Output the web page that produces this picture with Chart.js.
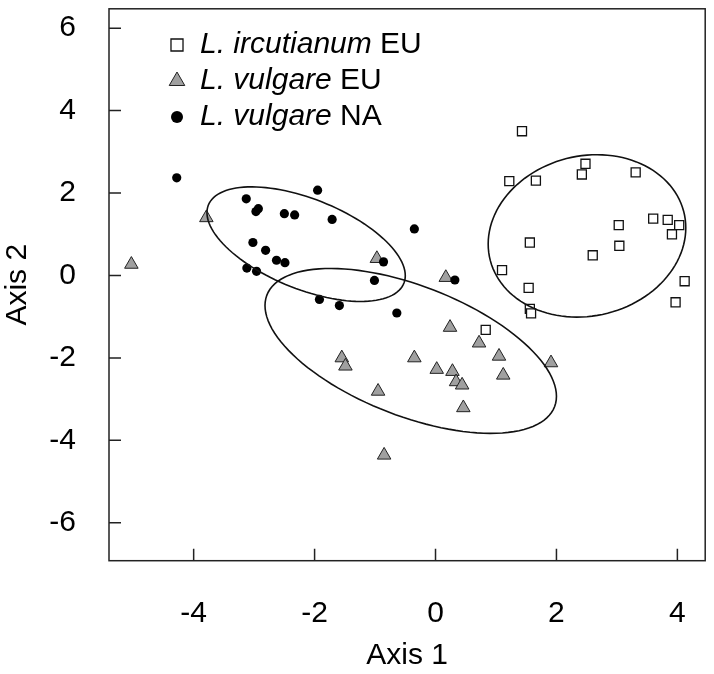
<!DOCTYPE html>
<html>
<head>
<meta charset="utf-8">
<script src="https://cdn.jsdelivr.net/npm/chart.js@4.4.1/dist/chart.umd.min.js"></script>
<style>
  html, body { margin: 0; padding: 0; background: #fff; }
  #wrap { width: 714px; height: 674px; }
</style>
</head>
<body>
<div id="wrap"><canvas id="chart"></canvas></div>
<script>
// axis settings
const xTicks = [-4, -2, 0, 2, 4];
const yTicks = [-6, -4, -2, 0, 2, 4, 6];
const xRange = [-5.40, 4.46];
const yRange = [-6.92, 6.47];

// L. ircutianum EU (open squares)
const ircX = [1.43, 1.22, 1.66, 2.48, 2.42, 3.31, 3.03, 3.60, 3.84, 4.03, 3.91, 3.04, 1.56, 2.60, 1.10, 1.54, 4.12, 1.56, 1.58, 3.97, 0.83];
const ircY = [3.50, 2.29, 2.30, 2.71, 2.45, 2.50, 1.22, 1.38, 1.35, 1.22, 1.00, 0.72, 0.80, 0.49, 0.13, -0.30, -0.14, -0.81, -0.92, -0.65, -1.32];

// L. vulgare EU (grey triangles)
const vulEuX = [-5.03, -3.79, -0.97, -1.55, -1.49, -0.95, -0.85, -0.35, 0.24, 0.72, 1.05, 1.12, 1.91, 0.02, 0.28, 0.34, 0.44, 0.46, 0.17];
const vulEuY = [0.27, 1.40, 0.41, -2.00, -2.20, -2.81, -4.36, -2.00, -1.26, -1.64, -1.96, -2.42, -2.12, -2.28, -2.33, -2.58, -2.66, -3.21, -0.05];

// L. vulgare NA (black dots)
const vulNaX = [-4.28, -3.13, -2.93, -2.97, -2.50, -2.33, -1.95, -1.71, -0.35, -3.02, -2.81, -2.63, -2.49, -3.12, -2.96, -0.86, -1.01, -1.92, -1.59, -0.64, 0.32];
const vulNaY = [2.37, 1.86, 1.62, 1.55, 1.50, 1.47, 2.07, 1.36, 1.13, 0.80, 0.61, 0.37, 0.31, 0.18, 0.10, 0.33, -0.12, -0.58, -0.73, -0.91, -0.11];

// group ellipses: NA, vulgare EU, ircutianum EU
const ellCx = [-2.14, -0.41, 2.505];
const ellCy = [0.76, -1.83, 0.96];
const ellRx = [1.64, 2.41, 1.634];
const ellRy = [1.39, 2.00, 1.97];
const ellCorr = [-0.55, -0.55, 0.10];

const legendSpecies = ['L. ircutianum', 'L. vulgare', 'L. vulgare'];
const legendRegion = ['EU', 'EU', 'NA'];

const FONT = '"Liberation Sans", Arial, Helvetica, sans-serif';

const toPoints = (xs, ys) => xs.map((x, i) => ({ x: x, y: ys[i] }));

const noPad = s => { s.paddingLeft = 0; s.paddingRight = 0; s.paddingTop = 0; s.paddingBottom = 0; };

// box and inward tick marks
const boxPlugin = {
    id: 'box',
    afterDraw(chart) {
        const { ctx, chartArea: a, scales } = chart;
        ctx.save();
        ctx.strokeStyle = '#222';
        ctx.lineWidth = 1.5;
        ctx.strokeRect(a.left, a.top, a.right - a.left, a.bottom - a.top);
        ctx.beginPath();
        scales.x.ticks.forEach(t => {
            const px = scales.x.getPixelForValue(t.value);
            ctx.moveTo(px, a.bottom);
            ctx.lineTo(px, a.bottom - 12);
        });
        scales.y.ticks.forEach(t => {
            const py = scales.y.getPixelForValue(t.value);
            ctx.moveTo(a.left, py);
            ctx.lineTo(a.left + 12, py);
        });
        ctx.stroke();
        ctx.restore();
    }
};

const ellipsePlugin = {
    id: 'ellipses',
    afterDatasetsDraw(chart) {
        const { ctx, scales } = chart;
        ctx.save();
        ctx.strokeStyle = '#111';
        ctx.lineWidth = 1.6;
        ellCx.forEach((cx, k) => {
            const d = Math.acos(ellCorr[k]);
            ctx.beginPath();
            for (let i = 0; i <= 120; i++) {
                const t = i / 120 * Math.PI * 2;
                const px = scales.x.getPixelForValue(cx + ellRx[k] * Math.cos(t));
                const py = scales.y.getPixelForValue(ellCy[k] + ellRy[k] * Math.cos(t - d));
                if (i === 0) ctx.moveTo(px, py); else ctx.lineTo(px, py);
            }
            ctx.closePath();
            ctx.stroke();
        });
        ctx.restore();
    }
};

// legend inside the plot, species in italics
const legendPlugin = {
    id: 'insideLegend',
    afterDraw(chart) {
        const { ctx } = chart;
        const sizes = [8.5, 9, 6];
        ctx.save();
        chart.data.datasets.forEach((ds, i) => {
            const y = 45 + i * 36;
            ctx.fillStyle = ds.backgroundColor;
            ctx.strokeStyle = ds.borderColor;
            ctx.lineWidth = ds.borderWidth || 0;
            Chart.helpers.drawPoint(ctx, { pointStyle: ds.pointStyle, radius: sizes[i], rotation: 0, borderWidth: ds.borderWidth }, 177, y);
            ctx.fillStyle = '#000';
            ctx.textBaseline = 'middle';
            ctx.textAlign = 'left';
            ctx.font = 'italic 30px ' + FONT;
            const sp = legendSpecies[i];
            ctx.fillText(sp, 200, y);
            const w = ctx.measureText(sp + ' ').width;
            ctx.font = '30px ' + FONT;
            ctx.fillText(legendRegion[i], 200 + w, y);
        });
        ctx.restore();
    }
};

new Chart(document.getElementById('chart'), {
    type: 'scatter',
    data: {
        datasets: [
            {
                label: legendSpecies[0] + ' ' + legendRegion[0],
                data: toPoints(ircX, ircY),
                pointStyle: 'rect',
                pointRadius: 6.4,
                backgroundColor: '#ffffff',
                borderColor: '#111111',
                borderWidth: 1.3,
                order: 3
            },
            {
                label: legendSpecies[1] + ' ' + legendRegion[1],
                data: toPoints(vulEuX, vulEuY),
                pointStyle: 'triangle',
                pointRadius: 7.8,
                backgroundColor: '#a0a0a0',
                borderColor: '#222222',
                borderWidth: 1,
                order: 2
            },
            {
                label: legendSpecies[2] + ' ' + legendRegion[2],
                data: toPoints(vulNaX, vulNaY),
                pointStyle: 'circle',
                pointRadius: 4.6,
                backgroundColor: '#000000',
                borderColor: '#000000',
                borderWidth: 0,
                order: 1
            }
        ]
    },
    options: {
        responsive: true,
        maintainAspectRatio: false,
        devicePixelRatio: 1,
        animation: false,
        layout: { padding: { top: 5, right: 7, left: 0, bottom: 0 } },
        plugins: {
            legend: { display: false },
            tooltip: { enabled: false }
        },
        scales: {
            x: {
                type: 'linear',
                min: xRange[0],
                max: xRange[1],
                afterBuildTicks: s => { s.ticks = xTicks.map(v => ({ value: v })); },
                afterFit: s => { s.height = 113.3; noPad(s); },
                grid: { display: false, drawTicks: false },
                border: { display: false },
                ticks: { font: { family: FONT, size: 30 }, color: '#000', padding: 35, maxRotation: 0, autoSkip: false },
                title: { display: true, text: 'Axis 1', font: { family: FONT, size: 30 }, color: '#000', padding: 0 }
            },
            y: {
                type: 'linear',
                min: yRange[0],
                max: yRange[1],
                afterBuildTicks: s => { s.ticks = yTicks.map(v => ({ value: v })); },
                afterFit: s => { s.width = 109; noPad(s); },
                grid: { display: false, drawTicks: false },
                border: { display: false },
                ticks: { font: { family: FONT, size: 30 }, color: '#000', padding: 33, autoSkip: false },
                title: { display: true, text: 'Axis 2', font: { family: FONT, size: 30 }, color: '#000', padding: 0 }
            }
        }
    },
    plugins: [ellipsePlugin, boxPlugin, legendPlugin]
});
</script>
</body>
</html>
